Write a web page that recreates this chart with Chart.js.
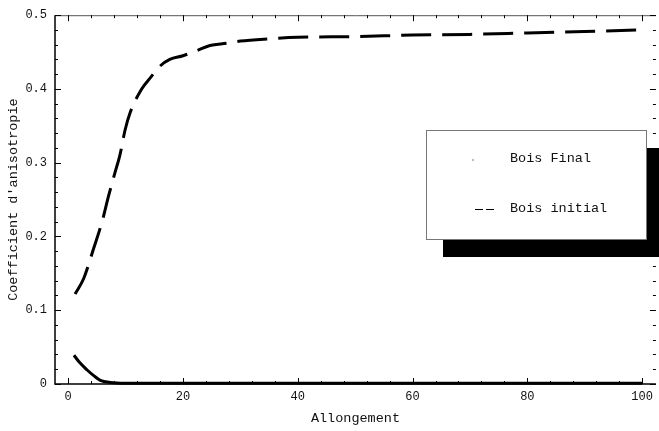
<!DOCTYPE html>
<html>
<head>
<meta charset="utf-8">
<script src="https://cdn.jsdelivr.net/npm/chart.js@4.4.1/dist/chart.umd.min.js"></script>
<style>
  html, body { margin: 0; padding: 0; background: #fff; }
  #wrap { width: 659px; height: 431px; }
</style>
</head>
<body>
<div id="wrap"><canvas id="myChart" width="659" height="431"></canvas></div>
<script>
// données
const initialX = [1.2, 2.7, 4.4, 5.9, 7.0, 8.2, 9.0, 9.9, 10.8, 12.8, 14.3, 16.0, 17.7, 20.0, 22.4, 24.7, 27.6, 30, 35, 40, 50, 60, 70, 80, 90, 100]
const initialY = [0.122, 0.143, 0.183, 0.220, 0.254, 0.288, 0.310, 0.344, 0.368, 0.400, 0.415, 0.431, 0.440, 0.445, 0.452, 0.459, 0.462, 0.465, 0.468, 0.470, 0.471, 0.473, 0.474, 0.476, 0.478, 0.480]
const finalX = [1, 2, 3.3, 4.5, 5.6, 7.3, 10, 20, 40, 60, 80, 100]
const finalY = [0.039, 0.029, 0.019, 0.011, 0.005, 0.002, 0.001, 0.001, 0.001, 0.001, 0.001, 0.001]
const xTicks = [0, 20, 40, 60, 80, 100]
const yTicks = [0, 0.1, 0.2, 0.3, 0.4, 0.5]
const seriesNames = ["Bois Final", "Bois initial"]

const mono = "'Liberation Mono', 'DejaVu Sans Mono', monospace"

function points(xs, ys) {
  return xs.map((x, i) => ({ x: x, y: ys[i] }))
}

// cadre + graduations a l'interieur, facon Mathematica
const cadre = {
  id: 'cadre',
  afterDatasetsDraw(chart) {
    const ctx = chart.ctx
    const a = chart.chartArea
    const sx = chart.scales.x
    const sy = chart.scales.y
    ctx.save()
    ctx.strokeStyle = '#000'
    ctx.lineWidth = 1.5
    ctx.beginPath()
    ctx.moveTo(a.left, a.top)
    ctx.lineTo(a.left, a.bottom)
    ctx.lineTo(a.right, a.bottom)
    ctx.stroke()
    ctx.strokeStyle = '#555'
    ctx.lineWidth = 1
    ctx.beginPath()
    ctx.moveTo(a.left, a.top + 0.5)
    ctx.lineTo(a.right, a.top + 0.5)
    ctx.stroke()

    ctx.strokeStyle = '#000'
    ctx.lineWidth = 1
    ctx.beginPath()
    for (let v = 0; v <= 100; v += 4) {
      const px = Math.round(sx.getPixelForValue(v)) + 0.5
      const len = v % 20 === 0 ? 6 : 3
      ctx.moveTo(px, a.bottom); ctx.lineTo(px, a.bottom - len)
      ctx.moveTo(px, a.top); ctx.lineTo(px, a.top + len)
    }
    for (let k = 0; k <= 25; k++) {
      const py = Math.round(sy.getPixelForValue(k * 0.02)) + 0.5
      const len = k % 5 === 0 ? 6 : 3
      ctx.moveTo(a.left, py); ctx.lineTo(a.left + len, py)
      ctx.moveTo(a.right, py); ctx.lineTo(a.right - len, py)
    }
    ctx.stroke()
    ctx.restore()
  },
  afterDraw(chart) {
    // legende avec ombre noire
    const ctx = chart.ctx
    const names = chart.data.datasets.map(d => d.label)
    ctx.save()
    ctx.fillStyle = '#000'
    ctx.fillRect(443, 148, 220, 109)
    ctx.fillStyle = '#fff'
    ctx.fillRect(426, 130, 220, 109)
    ctx.strokeStyle = '#777'
    ctx.lineWidth = 1
    ctx.strokeRect(426.5, 130.5, 220, 109)
    ctx.font = '13.5px ' + mono
    ctx.fillStyle = '#111'
    ctx.textBaseline = 'middle'
    ctx.fillText(names[0], 510, 158)
    ctx.fillText(names[1], 510, 208)
    ctx.fillStyle = '#bbb'
    ctx.fillRect(472, 159, 2, 2)
    ctx.strokeStyle = '#000'
    ctx.setLineDash([8, 3])
    ctx.beginPath()
    ctx.moveTo(475, 209.5)
    ctx.lineTo(494, 209.5)
    ctx.stroke()
    ctx.restore()
  }
}

const lineCanvas = document.getElementById('myChart')

const myChart = new Chart(lineCanvas, {
  type: 'scatter',
  data: {
    datasets: [{
      label: seriesNames[0],
      data: points(finalX, finalY),
      showLine: true,
      borderColor: '#000',
      borderWidth: 3,
      pointRadius: 0,
      cubicInterpolationMode: 'monotone',
      clip: 4
    }, {
      label: seriesNames[1],
      data: points(initialX, initialY),
      showLine: true,
      borderColor: '#000',
      borderWidth: 3,
      borderDash: [30, 11],
      pointRadius: 0,
      cubicInterpolationMode: 'monotone',
      clip: 4
    }]
  },
  options: {
    responsive: false,
    animation: false,
    layout: { padding: { top: 12, right: 2, left: 0, bottom: 0 } },
    plugins: { legend: { display: false }, tooltip: { enabled: false } },
    scales: {
      x: {
        type: 'linear',
        min: -2.3,
        max: 102.4,
        afterBuildTicks: s => { s.ticks = xTicks.map(v => ({ value: v })) },
        afterFit: s => { s.height = 47 },
        grid: { display: false, drawTicks: false },
        border: { display: false },
        ticks: { color: '#111', padding: 6, maxRotation: 0, font: { family: mono, size: 12 } },
        title: { display: true, text: 'Allongement', color: '#111', padding: 4, font: { family: mono, size: 13.5 } }
      },
      y: {
        min: 0,
        max: 0.5,
        afterBuildTicks: s => { s.ticks = yTicks.map(v => ({ value: v })) },
        afterFit: s => { s.width = 55 },
        grid: { display: false, drawTicks: false },
        border: { display: false },
        ticks: { color: '#111', padding: 8, font: { family: mono, size: 12 } },
        title: { display: true, text: "Coefficient d'anisotropie", color: '#111', padding: 5, font: { family: mono, size: 13.5 } }
      }
    }
  },
  plugins: [cadre]
})
</script>
</body>
</html>
